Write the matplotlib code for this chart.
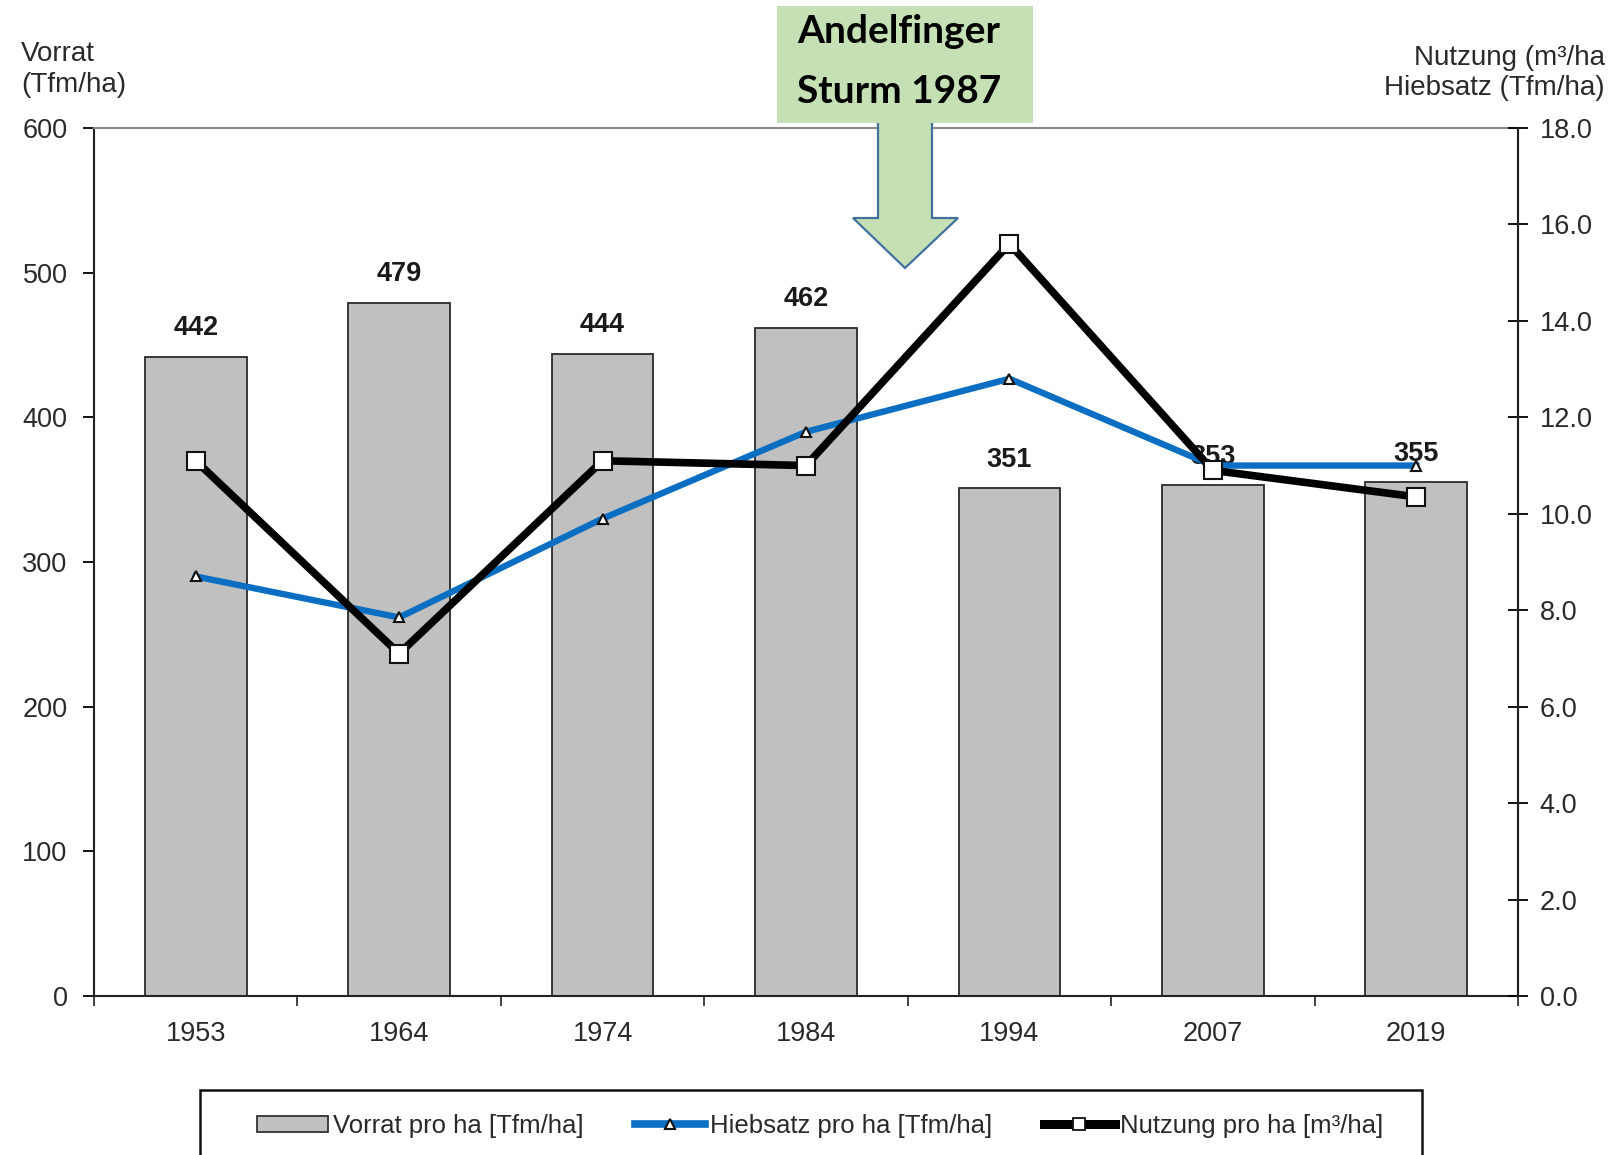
import matplotlib
matplotlib.use("Agg")
import matplotlib.pyplot as plt
from matplotlib.patches import Rectangle, Polygon, Patch
from matplotlib.lines import Line2D

# ---------------- data ----------------
years = ["1953", "1964", "1974", "1984", "1994", "2007", "2019"]
vorrat = [442, 479, 444, 462, 351, 353, 355]
hiebsatz = [8.7, 7.85, 9.9, 11.7, 12.8, 11.0, 11.0]
nutzung = [11.1, 7.1, 11.1, 11.0, 15.6, 10.9, 10.35]
left_ticks = [0, 100, 200, 300, 400, 500, 600]
right_ticks = [0.0, 2.0, 4.0, 6.0, 8.0, 10.0, 12.0, 14.0, 16.0, 18.0]
legend_labels = ["Vorrat pro ha [Tfm/ha]", "Hiebsatz pro ha [Tfm/ha]", "Nutzung pro ha [m³/ha]"]
annotation_lines = ["Andelfinger", "Sturm 1987"]

# ---------------- figure ----------------
W, H = 1612, 1155
plt.rcParams['font.family'] = ['Liberation Sans', 'DejaVu Sans']
fig = plt.figure(figsize=(W / 100, H / 100), dpi=100)

def fx(px):
    return px / W

def fy(py):
    return 1 - py / H

TXT = '#2a2a2a'
ax = fig.add_axes([fx(94), fy(996), fx(1518) - fx(94), fy(128) - fy(996)])
x = list(range(len(years)))

ax.bar(x, vorrat, width=0.5, color='#C0C0C0', edgecolor='#2a2a2a', linewidth=1.3, zorder=2)
for xi, v in zip(x, vorrat):
    off = 11.5 if v > 400 else 11
    ax.annotate(str(v), (xi, v), xytext=(0, off), textcoords='offset points',
                ha='center', va='bottom', fontsize=19.5, fontweight='bold', color='#1a1a1a', zorder=3)

ax.set_xlim(-0.5, len(years) - 0.5)
ax.set_ylim(0, 600)
ax.set_yticks(left_ticks)
ax.set_yticklabels([str(t) for t in left_ticks])
ax.set_xticks([i - 0.5 for i in range(len(years) + 1)])
ax.set_xticklabels([])
ax.set_xticks(x, minor=True)
ax.set_xticklabels(years, minor=True)
ax.tick_params(axis='x', which='major', direction='out', length=7, width=1.3, color='#333333')
ax.tick_params(axis='x', which='minor', length=0, pad=18, labelsize=19.5, labelcolor=TXT)
ax.tick_params(axis='y', direction='out', length=8, width=1.3, pad=11, labelsize=19.5, labelcolor=TXT)
for s in ['left', 'bottom', 'right']:
    ax.spines[s].set_color('#222222')
    ax.spines[s].set_linewidth(1.5)
ax.spines['top'].set_color('#8a8a8a')
ax.spines['top'].set_linewidth(1.5)

ax2 = ax.twinx()
ax2.set_ylim(0, 18)
ax2.set_yticks(right_ticks)
ax2.set_yticklabels([f"{t:.1f}" for t in right_ticks])
ax2.tick_params(axis='y', direction='inout', length=15, width=1.3, pad=8, labelsize=19.5, labelcolor=TXT)
for s in ['left', 'bottom', 'top']:
    ax2.spines[s].set_visible(False)
ax2.spines['right'].set_color('#222222')
ax2.spines['right'].set_linewidth(1.5)

ax2.plot(x, hiebsatz, color='#0A6FC2', linewidth=4.6, marker='^', markersize=7,
         markerfacecolor='white', markeredgecolor='#111111', markeredgewidth=1.5, zorder=3)
ax2.plot(x, nutzung, color='black', linewidth=5.5, marker='s', markersize=12.5,
         markerfacecolor='white', markeredgecolor='#111111', markeredgewidth=1.5, zorder=4)

# axis titles
fig.text(fx(21), fy(61), "Vorrat", fontsize=20, color=TXT, ha='left', va='baseline')
fig.text(fx(21), fy(92), "(Tfm/ha)", fontsize=20, color=TXT, ha='left', va='baseline')
fig.text(fx(1605), fy(65), "Nutzung (m³/ha", fontsize=20, color=TXT, ha='right', va='baseline')
fig.text(fx(1605), fy(95), "Hiebsatz (Tfm/ha)", fontsize=20, color=TXT, ha='right', va='baseline')

# annotation arrow + box
arrow_px = [(878, 110), (932, 110), (932, 218), (958, 218), (905, 268), (853, 218), (878, 218)]
fig.patches.append(Polygon([(fx(a), fy(b)) for a, b in arrow_px], closed=True,
                           transform=fig.transFigure, facecolor='#C5E0B4',
                           edgecolor='#41719C', linewidth=1.6, zorder=10))
fig.patches.append(Rectangle((fx(777), fy(123)), fx(1033) - fx(777), fy(6) - fy(123),
                             transform=fig.transFigure, facecolor='#C5E0B4',
                             edgecolor='none', zorder=11))
fig.text(fx(797), fy(43), annotation_lines[0], fontsize=28, fontweight='bold', family='Lato',
         color='black', ha='left', va='baseline', zorder=12)
fig.text(fx(797), fy(103), annotation_lines[1], fontsize=28, fontweight='bold', family='Lato',
         color='black', ha='left', va='baseline', zorder=12)

# legend
fig.patches.append(Rectangle((fx(200), fy(1170)), fx(1422) - fx(200), fy(1090) - fy(1170),
                             transform=fig.transFigure, facecolor='white',
                             edgecolor='#111111', linewidth=1.8, zorder=1))
handles = [
    Patch(facecolor='#C0C0C0', edgecolor='#333333', linewidth=1.3),
    Line2D([], [], color='#0A6FC2', linewidth=5.5, marker='^', markersize=7,
           markerfacecolor='white', markeredgecolor='#111111', markeredgewidth=1.5),
    Line2D([], [], color='black', linewidth=6.5, marker='s', markersize=9,
           markerfacecolor='white', markeredgecolor='#111111', markeredgewidth=1.3),
]
leg = fig.legend(handles, legend_labels, loc='center', bbox_to_anchor=(fx(820), fy(1126)),
                 ncol=3, frameon=False, fontsize=18.5, handlelength=2.75, handletextpad=0.2,
                 columnspacing=2.0, borderpad=0, handleheight=0.6)
for t in leg.get_texts():
    t.set_color(TXT)
leg.set_zorder(5)

fig.savefig("out.png", dpi=100)
